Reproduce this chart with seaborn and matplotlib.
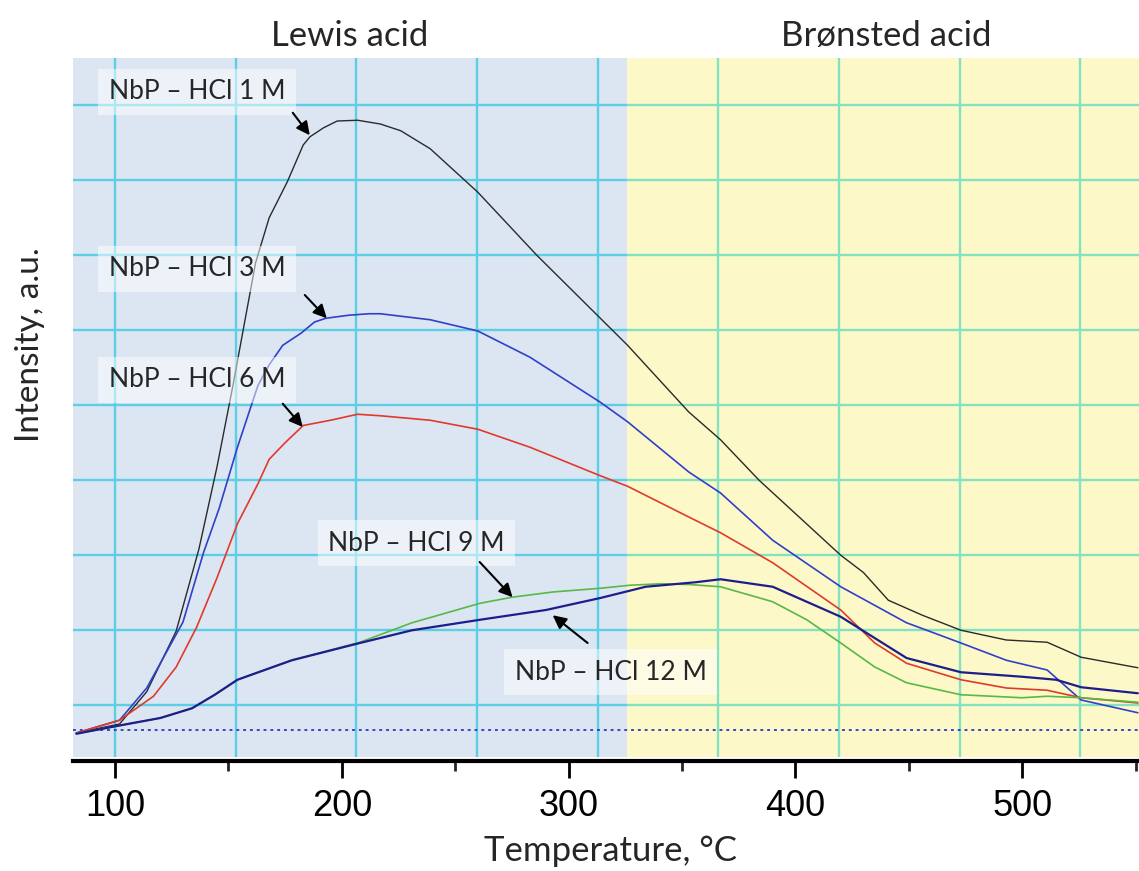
import numpy as np
import pandas as pd
import matplotlib
matplotlib.use("Agg")
import matplotlib.pyplot as plt
import matplotlib.transforms as mtransforms
from matplotlib.ticker import FixedLocator
import seaborn as sns

# ---------------- data ----------------
t_1m = [83, 102, 114, 127, 137, 145, 152, 162, 168, 176, 183, 186, 192, 198, 207, 217, 226,
        239, 260, 286, 314, 326, 353, 367, 384, 420, 430, 441, 456, 473, 493, 511, 526, 551]
i_1m = [-0.04, 0.08, 0.51, 1.32, 2.41, 3.51, 4.59, 6.23, 6.83, 7.31, 7.80, 7.91, 8.03, 8.12,
        8.13, 8.08, 7.99, 7.75, 7.17, 6.33, 5.49, 5.13, 4.24, 3.87, 3.33, 2.33, 2.10, 1.73,
        1.53, 1.33, 1.20, 1.17, 0.97, 0.83]

t_3m = [83, 102, 114, 124, 130, 139, 146, 154, 163, 168, 174, 182, 188, 193, 203, 212, 217,
        239, 260, 283, 314, 326, 353, 367, 390, 420, 449, 473, 493, 511, 526, 551]
i_3m = [-0.04, 0.13, 0.56, 1.11, 1.44, 2.36, 2.96, 3.77, 4.59, 4.87, 5.13, 5.29, 5.44, 5.49,
        5.53, 5.55, 5.55, 5.47, 5.32, 4.97, 4.37, 4.11, 3.44, 3.16, 2.53, 1.91, 1.43, 1.16,
        0.93, 0.80, 0.40, 0.23]

t_6m = [83, 102, 117, 127, 136, 145, 154, 163, 168, 175, 183, 195, 207, 217, 239, 260, 283,
        314, 326, 353, 367, 390, 420, 435, 449, 473, 493, 511, 526, 551]
i_6m = [-0.04, 0.13, 0.45, 0.84, 1.37, 2.03, 2.75, 3.28, 3.61, 3.83, 4.06, 4.13, 4.21, 4.19,
        4.13, 4.01, 3.77, 3.39, 3.25, 2.84, 2.63, 2.23, 1.60, 1.16, 0.89, 0.67, 0.56, 0.53,
        0.43, 0.36]

t_9m = [83, 102, 120, 134, 144, 154, 178, 208, 231, 261, 275, 293, 314, 327, 341, 353, 367,
        390, 405, 420, 435, 449, 473, 500, 511, 526, 551]
i_9m = [-0.05, 0.06, 0.16, 0.29, 0.47, 0.67, 0.93, 1.17, 1.43, 1.69, 1.77, 1.84, 1.89, 1.93,
        1.95, 1.94, 1.91, 1.71, 1.47, 1.16, 0.84, 0.63, 0.47, 0.43, 0.45, 0.43, 0.37]

t_12m = [83, 102, 120, 134, 144, 154, 178, 208, 231, 261, 290, 314, 334, 356, 367, 390, 420,
         449, 473, 500, 515, 526, 551]
i_12m = [-0.05, 0.06, 0.16, 0.29, 0.47, 0.67, 0.93, 1.16, 1.33, 1.47, 1.60, 1.76, 1.91, 1.97,
         2.01, 1.91, 1.51, 0.96, 0.77, 0.71, 0.67, 0.57, 0.49]

samples = ["NbP – HCl 1 M", "NbP – HCl 3 M", "NbP – HCl 6 M", "NbP – HCl 9 M", "NbP – HCl 12 M"]
x_ticks = [100, 200, 300, 400, 500]
region_labels = ["Lewis acid", "Brønsted acid"]

# ---------------- build table ----------------
series = [(t_1m, i_1m), (t_3m, i_3m), (t_6m, i_6m), (t_9m, i_9m), (t_12m, i_12m)]
frames = []
for name, (t, v) in zip(samples, series):
    frames.append(pd.DataFrame({"T": t, "I": v, "sample": name}))
df = pd.concat(frames, ignore_index=True)

colors = {
    samples[0]: "#2a2a2a",
    samples[1]: "#3040c8",
    samples[2]: "#e03a2a",
    samples[3]: "#58b848",
    samples[4]: "#1e1e8a",
}
widths = {samples[0]: 1.0, samples[1]: 1.2, samples[2]: 1.2, samples[3]: 1.2, samples[4]: 1.6}

# ---------------- figure ----------------
sns.set_style("white")
plt.rcParams["font.family"] = ["Lato", "DejaVu Sans"]

fig = plt.figure(figsize=(11.39, 8.71), dpi=100)
ax = fig.add_axes([73 / 1139, (871 - 757) / 871, (1139 - 73) / 1139, (757 - 58) / 871])

x_lo, x_hi = 81.5, 551.5
y_lo, y_hi = -0.36, 8.96
boundary = 325.6

ax.axvspan(x_lo, boundary, color="#dce6f3", zorder=0, lw=0)
ax.axvspan(boundary, x_hi, color="#fcf8c8", zorder=0, lw=0)

# grid (blue part cyan, yellow part green-teal)
h_grid = np.arange(0.333, 8.6, 1.0)
v_grid = 100 + 53.2 * np.arange(9)
ax.hlines(h_grid, x_lo, boundary, colors="#5ccfe6", lw=1.7, zorder=1)
ax.hlines(h_grid, boundary, x_hi, colors="#82e2c2", lw=1.7, zorder=1)
for xv in v_grid:
    ax.axvline(xv, color="#5ccfe6" if xv < boundary else "#82e2c2", lw=1.7, zorder=1)

# baseline
ax.axhline(0, color="#3a48c0", lw=1.4, ls=(0, (1.5, 2)), zorder=2)

for name in samples:
    sub = df[df["sample"] == name]
    sns.lineplot(data=sub, x="T", y="I", color=colors[name], lw=widths[name],
                 estimator=None, sort=False, ax=ax, legend=False, zorder=3)

ax.set_xlim(x_lo, x_hi)
ax.set_ylim(y_lo, y_hi)

for s in ["left", "top", "right"]:
    ax.spines[s].set_visible(False)
ax.spines["bottom"].set_position(("outward", 3))
ax.spines["bottom"].set_linewidth(3)
ax.spines["bottom"].set_color("black")

ax.set_yticks([])
ax.xaxis.set_major_locator(FixedLocator(x_ticks))
ax.xaxis.set_minor_locator(FixedLocator([150, 250, 350, 450, 550]))
ax.tick_params(axis="x", which="major", direction="out", length=12, width=2, pad=8,
               labelsize=26, colors="black", bottom=True)
ax.tick_params(axis="x", which="minor", direction="out", length=7, width=2, bottom=True)
for lab in ax.get_xticklabels():
    lab.set_fontfamily(["Liberation Sans", "DejaVu Sans"])
ax.set_xlabel("")
ax.set_ylabel("")

# labels
fig.text(610 / 1139, 1 - 851 / 871, "Temperature, °C", ha="center", va="center", fontsize=25)
fig.text(30 / 1139, 1 - 345 / 871, "Intensity, a.u.", ha="center", va="center",
         rotation=90, fontsize=24)
trans = mtransforms.blended_transform_factory(ax.transData, fig.transFigure)
ax.text(203.5, 1 - 36 / 871, region_labels[0], transform=trans, ha="center", va="center",
        fontsize=25)
ax.text(440, 1 - 36 / 871, region_labels[1], transform=trans, ha="center", va="center",
        fontsize=25)

# annotations
box = dict(boxstyle="square,pad=0.4", fc="white", ec="none", alpha=0.5)
arrow = dict(arrowstyle="-|>", color="black", lw=1.5, mutation_scale=20, shrinkA=0, shrinkB=0)
ann = [
    (samples[0], (136.1, 8.51), (178.4, 8.23), (185.9, 7.93)),
    (samples[1], (136.1, 6.15), (183.7, 5.80), (193.4, 5.49)),
    (samples[2], (136.1, 4.67), (174.0, 4.35), (182.8, 4.04)),
    (samples[3], (233.0, 2.49), (260.8, 2.24), (275.3, 1.77)),
    (samples[4], (318.5, 0.77), (308.4, 1.16), (293.0, 1.53)),
]
for name, tpos, tail, tip in ann:
    ax.text(tpos[0], tpos[1], name, ha="center", va="center", fontsize=19, bbox=box, zorder=5)
    ax.annotate("", xy=tip, xytext=tail, arrowprops=arrow, zorder=6)

fig.savefig("out.png", dpi=100)
